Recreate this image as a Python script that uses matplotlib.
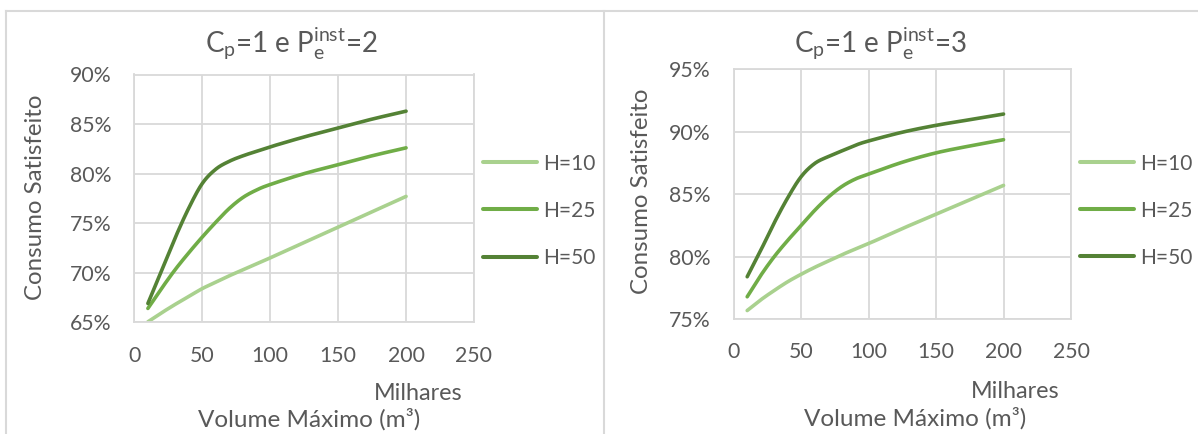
import numpy as np
import matplotlib
matplotlib.use("Agg")
import matplotlib.pyplot as plt
from matplotlib.lines import Line2D
from matplotlib.ticker import PercentFormatter

plt.rcParams["font.family"] = ["Lato", "DejaVu Sans"]
plt.rcParams["mathtext.fontset"] = "custom"
plt.rcParams["mathtext.rm"] = "Lato"
plt.rcParams["mathtext.it"] = "Lato:italic"

# Volume máximo (milhares de m3)
volume = [10, 20, 30, 40, 50, 60, 70, 80, 90, 100, 125, 150, 175, 200]

# Consumo satisfeito (%), Cp=1 e Pe_inst=2
left_h10 = [65.05, 65.95, 66.8, 67.6, 68.4, 69.05, 69.7, 70.3, 70.9, 71.5,
            73.05, 74.6, 76.15, 77.7]
left_h25 = [66.4, 68.4, 70.3, 72.0, 73.6, 75.1, 76.5, 77.6, 78.35, 78.9,
            80.0, 80.9, 81.8, 82.6]
left_h50 = [66.9, 70.2, 73.5, 76.5, 79.0, 80.45, 81.25, 81.8, 82.25, 82.7,
            83.7, 84.6, 85.5, 86.3]

# Consumo satisfeito (%), Cp=1 e Pe_inst=3
right_h10 = [75.7, 76.55, 77.3, 78.0, 78.6, 79.15, 79.65, 80.15, 80.6, 81.05,
             82.25, 83.4, 84.55, 85.7]
right_h25 = [76.8, 78.5, 80.0, 81.3, 82.5, 83.7, 84.75, 85.6, 86.2, 86.6,
             87.55, 88.3, 88.85, 89.35]
right_h50 = [78.4, 80.5, 82.7, 84.7, 86.4, 87.45, 88.0, 88.45, 88.9, 89.25,
             89.95, 90.5, 90.95, 91.4]

labels = ["H=10", "H=25", "H=50"]
colors = ["#A9D18E", "#70AD47", "#548235"]

W, H = 1198, 434
GRID = "#D9D9D9"
TXT = "#595959"


def fx(px):
    return px / W


def fy(py):
    return 1 - py / H


def smooth(x, y, sx, sy, n=30):
    """Bezier smoothing through the data points (Catmull-Rom style)."""
    P = np.column_stack([np.asarray(x, float) * sx, np.asarray(y, float) * sy])
    out = []
    t = np.linspace(0, 1, n)[:, None]
    for i in range(len(P) - 1):
        p0 = P[i - 1] if i > 0 else P[i]
        p1, p2 = P[i], P[i + 1]
        p3 = P[i + 2] if i + 2 < len(P) else P[i + 1]
        c1 = p1 + (p2 - p0) / 6
        c2 = p2 - (p3 - p1) / 6
        seg = ((1 - t) ** 3 * p1 + 3 * (1 - t) ** 2 * t * c1
               + 3 * (1 - t) * t ** 2 * c2 + t ** 3 * p2)
        out.append(seg if i == 0 else seg[1:])
    out = np.vstack(out)
    return out[:, 0] / sx, out[:, 1] / sy


fig = plt.figure(figsize=(W / 100, H / 100), dpi=100)

# panel frames
fig.add_artist(Line2D([fx(5.5), fx(1198)], [fy(11), fy(11)], color=GRID, lw=1.5))
fig.add_artist(Line2D([fx(5.5), fx(5.5)], [fy(11), fy(434)], color=GRID, lw=1.5))
fig.add_artist(Line2D([fx(604), fx(604)], [fy(11), fy(434)], color=GRID, lw=1.5))

title_fmt = r"C$_{\mathregular{p}}$=1 e P$_{\mathregular{e}}^{\mathregular{inst}}$=%d"

panels = [
    dict(box=(134.3, 74.5, 474, 322.3), ylim=(65, 90),
         series=[left_h10, left_h25, left_h50], pe=2,
         tx=291, ylx=36, yly=197.5, mx=418, my=400, vx=309, vy=427,
         leg=(1.0265, 0.45), xpad=17),
    dict(box=(733.7, 69, 1071, 319.3), ylim=(75, 95),
         series=[right_h10, right_h25, right_h50], pe=3,
         tx=880.5, ylx=642, yly=191.7, mx=1015, my=398, vx=915, vy=426,
         leg=(1.0267, 0.434), xpad=16.3),
]

for p in panels:
    x0, y0, x1, y1 = p["box"]
    ax = fig.add_axes([fx(x0), fy(y1), (x1 - x0) / W, (y1 - y0) / H])
    ax.set_xlim(0, 250)
    ax.set_ylim(*p["ylim"])
    ax.set_xticks(range(0, 251, 50))
    ax.set_yticks(np.arange(p["ylim"][0], p["ylim"][1] + 0.1, 5))
    ax.yaxis.set_major_formatter(PercentFormatter(xmax=100, decimals=0))
    ax.grid(True, color=GRID, lw=1.3)
    ax.set_axisbelow(True)
    for s in ax.spines.values():
        s.set_color(GRID)
        s.set_linewidth(1.3)
    ax.tick_params(length=0, labelsize=15.3, colors=TXT)
    ax.tick_params(axis="x", pad=p["xpad"])
    ax.tick_params(axis="y", pad=16.5)

    sx = (x1 - x0) / 250
    sy = (y1 - y0) / (p["ylim"][1] - p["ylim"][0])
    handles = []
    for vals, lab, col in zip(p["series"], labels, colors):
        xs, ys = smooth(volume, vals, sx, sy)
        ln, = ax.plot(xs, ys, color=col, lw=2.6, solid_capstyle="round", label=lab)
        handles.append(ln)

    leg = ax.legend(handles=handles, loc="center left", bbox_to_anchor=p["leg"],
                    frameon=False, fontsize=15, labelcolor=TXT, borderpad=0,
                    borderaxespad=0, handlelength=2.6, handletextpad=0.27,
                    labelspacing=1.3)
    for h in leg.get_lines():
        h.set_linewidth(2.9)

    fig.text(fx(p["tx"]), fy(53), title_fmt % p["pe"], fontsize=20, color=TXT,
             ha="center", va="baseline")
    fig.text(fx(p["ylx"]), fy(p["yly"]), "Consumo Satisfeito", fontsize=17.3,
             color=TXT, rotation=90, ha="center", va="center")
    fig.text(fx(p["mx"]), fy(p["my"]), "Milhares", fontsize=16.8, color=TXT,
             ha="center", va="baseline")
    fig.text(fx(p["vx"]), fy(p["vy"]), "Volume Máximo (m³)",
             fontsize=17.5, color=TXT, ha="center", va="baseline")

fig.savefig("out.png", dpi=100)
